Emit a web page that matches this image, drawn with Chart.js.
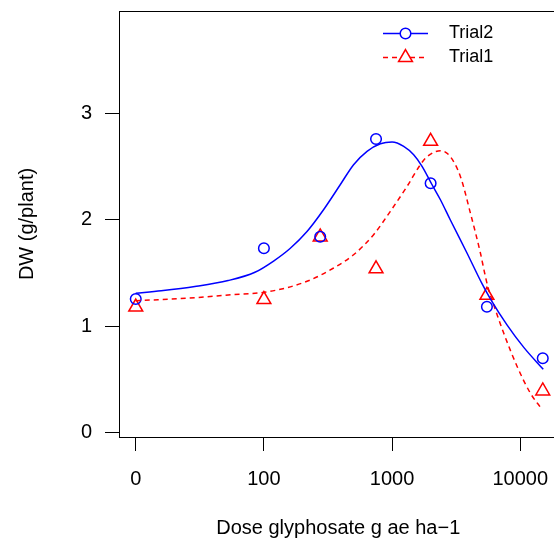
<!DOCTYPE html>
<html>
<head>
<meta charset="utf-8">
<script src="https://cdn.jsdelivr.net/npm/chart.js@4.4.1/dist/chart.umd.min.js"></script>
<style>
html, body { margin: 0; padding: 0; background: #fff; overflow: hidden; }
canvas { display: block; }
</style>
</head>
<body>
<canvas id="plotCanvas" width="567" height="546"></canvas>
<script>
// observed doses, 0 is drawn one decade below 100 (like drc does)
var doses = [0, 100, 275, 750, 2000, 5500, 15000];
var trial2Values = [1.255, 1.733, 1.842, 2.762, 2.345, 1.183, 0.697];
var trial1Values = [1.18, 1.25, 1.84, 1.54, 2.74, 1.29, 0.39];

// fitted curves
var curve2Doses = [0, 15.8, 28.9, 52.6, 85.1, 119, 160, 217, 292, 394, 501, 638, 811, 1000, 1233, 1475, 1715, 2053, 2385, 2851, 3852, 5047, 5866, 7913, 10665, 15136];
var curve2Values = [1.309, 1.333, 1.373, 1.429, 1.507, 1.613, 1.731, 1.891, 2.096, 2.331, 2.520, 2.646, 2.717, 2.734, 2.693, 2.614, 2.505, 2.331, 2.190, 1.999, 1.686, 1.397, 1.255, 1.010, 0.800, 0.593];

var curve1Doses = [0, 28.9, 52.6, 108, 217, 350, 501, 718, 970, 1310, 1663, 1876, 2385, 2851, 3419, 4092, 4898, 5260, 5652, 6220, 7447, 9484, 12030, 14590];
var curve1Values = [1.239, 1.267, 1.293, 1.324, 1.422, 1.547, 1.672, 1.861, 2.081, 2.316, 2.520, 2.595, 2.652, 2.595, 2.407, 2.062, 1.686, 1.509, 1.349, 1.199, 0.932, 0.618, 0.367, 0.226];

var xTicks = [0, 100, 1000, 10000];
var yTicks = [0, 1, 2, 3];
var seriesNames = ['Trial2', 'Trial1'];

var FONT = '"Liberation Sans", Arial, Helvetica, sans-serif';
var BLUE = '#0000ff';
var RED = '#ff0000';

function doseToX(d) {
    return d === 0 ? 10 : d;
}

function pairs(ds, vs) {
    return ds.map(function (d, i) { return { x: doseToX(d), y: vs[i] }; });
}

// box around the plot region
var boxPlugin = {
    id: 'box',
    afterDraw: function (chart) {
        var a = chart.chartArea;
        var ctx = chart.ctx;
        ctx.save();
        ctx.strokeStyle = '#000';
        ctx.lineWidth = 1;
        ctx.strokeRect(a.left + 0.5, a.top + 0.5, a.right - a.left, a.bottom - a.top);
        ctx.restore();
    }
};

// R style legend: line with the marker in the middle
var legendPlugin = {
    id: 'rlegend',
    afterDraw: function (chart) {
        var ctx = chart.ctx;
        var rows = [
            { y: 33.5, color: BLUE, dash: [], marker: 'circle', label: seriesNames[0] },
            { y: 57.5, color: RED, dash: [5, 4], marker: 'triangle', label: seriesNames[1] }
        ];
        ctx.save();
        rows.forEach(function (r) {
            ctx.strokeStyle = r.color;
            ctx.lineWidth = 1.5;
            ctx.setLineDash(r.dash);
            ctx.beginPath();
            ctx.moveTo(383, r.y);
            ctx.lineTo(428, r.y);
            ctx.stroke();
            ctx.setLineDash([]);
            ctx.fillStyle = '#fff';
            ctx.beginPath();
            if (r.marker === 'circle') {
                ctx.arc(405.5, r.y, 5.3, 0, Math.PI * 2);
            } else {
                var rad = 8;
                ctx.moveTo(405.5, r.y - rad);
                ctx.lineTo(405.5 + rad * Math.sin(Math.PI / 3), r.y + rad / 2);
                ctx.lineTo(405.5 - rad * Math.sin(Math.PI / 3), r.y + rad / 2);
                ctx.closePath();
            }
            ctx.fill();
            ctx.stroke();
            ctx.fillStyle = '#000';
            ctx.font = '18px ' + FONT;
            ctx.textBaseline = 'middle';
            ctx.textAlign = 'left';
            ctx.fillText(r.label, 449, r.y);
        });
        ctx.restore();
    }
};

var canvas = document.getElementById('plotCanvas');
var ctx = canvas.getContext('2d');

var data = {
    datasets: [{
        label: 'Trial2 fit',
        data: pairs(curve2Doses, curve2Values),
        borderColor: BLUE,
        borderWidth: 1.5,
        pointRadius: 0,
        fill: false,
        cubicInterpolationMode: 'monotone'
    }, {
        label: 'Trial1 fit',
        data: pairs(curve1Doses, curve1Values),
        borderColor: RED,
        borderWidth: 1.5,
        borderDash: [5, 4],
        pointRadius: 0,
        fill: false,
        cubicInterpolationMode: 'monotone'
    }, {
        label: 'Trial2',
        data: pairs(doses, trial2Values),
        showLine: false,
        pointStyle: 'circle',
        pointRadius: 5.3,
        pointBorderWidth: 1.5,
        borderColor: BLUE,
        backgroundColor: 'rgba(0,0,0,0)'
    }, {
        label: 'Trial1',
        data: pairs(doses, trial1Values),
        showLine: false,
        pointStyle: 'triangle',
        pointRadius: 8,
        pointBorderWidth: 1.5,
        borderColor: RED,
        backgroundColor: 'rgba(0,0,0,0)'
    }]
};

var options = {
    responsive: false,
    animation: false,
    devicePixelRatio: 1,
    layout: { padding: { top: 11, right: 3, left: 0, bottom: 0 } },
    plugins: {
        legend: { display: false },
        tooltip: { enabled: false }
    },
    scales: {
        x: {
            type: 'logarithmic',
            position: 'bottom',
            min: 7.4,
            max: 19550,
            afterBuildTicks: function (s) {
                s.ticks = xTicks.map(function (t) { return { value: doseToX(t) }; });
            },
            afterFit: function (s) {
                s.height = 109;
                s.paddingLeft = 0;
                s.paddingRight = 0;
            },
            grid: { drawOnChartArea: false, tickLength: 14, color: '#000', lineWidth: 1 },
            border: { display: true, color: '#000', width: 1 },
            ticks: {
                autoSkip: false,
                maxRotation: 0,
                padding: 16,
                color: '#000',
                font: { family: FONT, size: 20 },
                callback: function (v, i) { return String(xTicks[i]); }
            },
            title: {
                display: true,
                text: 'Dose glyphosate g ae ha\u22121',
                color: '#000',
                font: { family: FONT, size: 20 },
                padding: { top: 0, bottom: 6 }
            }
        },
        y: {
            type: 'linear',
            position: 'left',
            min: -0.044,
            max: 3.967,
            afterBuildTicks: function (s) {
                s.ticks = yTicks.map(function (t) { return { value: t }; });
            },
            afterFit: function (s) {
                s.width = 119;
                s.paddingTop = 0;
                s.paddingBottom = 0;
            },
            grid: { drawOnChartArea: false, tickLength: 14, color: '#000', lineWidth: 1 },
            border: { display: true, color: '#000', width: 1 },
            ticks: {
                padding: 13,
                color: '#000',
                font: { family: FONT, size: 20 },
                callback: function (v) { return String(v); }
            },
            title: {
                display: true,
                text: 'DW (g/plant)',
                color: '#000',
                font: { family: FONT, size: 20 },
                padding: { top: 15, bottom: 0 }
            }
        }
    }
};

var currentChart = new Chart(ctx, {
    type: 'line',
    data: data,
    options: options,
    plugins: [boxPlugin, legendPlugin]
});
</script>
</body>
</html>
